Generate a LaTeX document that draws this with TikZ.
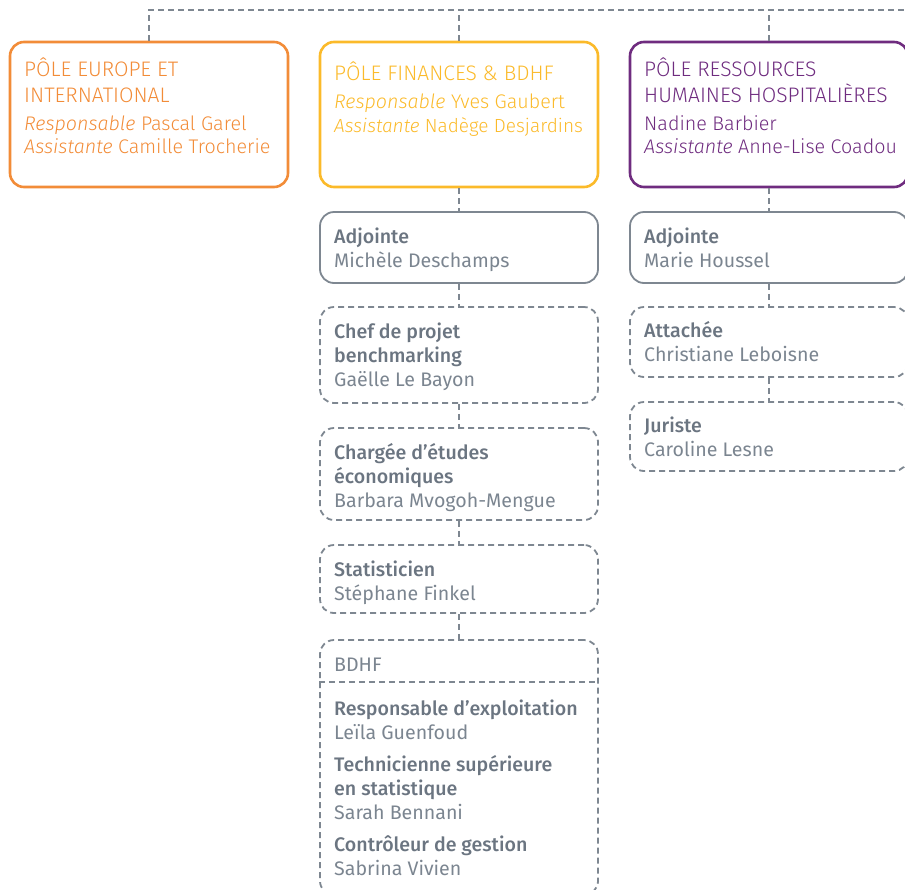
\documentclass[tikz,border=0pt]{standalone}
\usepackage{fontspec}
\setmainfont{Fira Sans}
\newfontfamily\lightf{Fira Sans Light}[ItalicFont={Fira Sans Light Italic}]
\newfontfamily\medf{Fira Sans Medium}
\definecolor{orangeP}{HTML}{F28C38}
\definecolor{yellowP}{HTML}{FBBA2A}
\definecolor{purpleP}{HTML}{6F2C7F}
\definecolor{gborder}{HTML}{7E8791}
\definecolor{gtext}{HTML}{7B8590}
\definecolor{glabel}{HTML}{6B7581}
\begin{document}
\begin{tikzpicture}[x=1pt,y=-1pt,
  pole/.style={draw=#1, text=#1, line width=2.6pt, rounded corners=14pt, minimum width=278pt, minimum height=145pt, inner sep=0pt},
  gbox/.style={draw=gborder, line width=1.8pt, rounded corners=14pt, inner sep=0pt, minimum width=278pt},
  dbox/.style={gbox, dash pattern=on 6pt off 4pt},
  link/.style={draw=gborder, line width=1.8pt, dash pattern=on 6pt off 4pt},
  tt/.style={anchor=base west, inner sep=0pt, text=#1, font=\lightf\fontsize{21}{24}\selectfont},
  tl/.style={anchor=base west, inner sep=0pt, text=#1, font=\lightf\fontsize{19.7}{24}\selectfont},
  nm/.style={anchor=base west, inner sep=0pt, text=gtext, font=\fontsize{19.6}{24}\selectfont},
  lb/.style={anchor=base west, inner sep=0pt, text=glabel, font=\medf\fontsize{19.6}{24}\selectfont}]
\useasboundingbox (0,0) rectangle (905,889);
% top-level boxes
\node[pole=orangeP] (eu) at (149,114.5) {};
\node[pole=yellowP] (fin) at (459,114.5) {};
\node[pole=purpleP] (rh) at (769,114.5) {};
% finance column
\node[gbox, minimum height=71pt] (adjF) at (459,247.5) {};
\node[dbox, minimum height=96pt] (chef) at (459,355) {};
\node[dbox, minimum height=92pt] (charg) at (459,474) {};
\node[dbox, minimum height=68pt] (stat) at (459,579) {};
\node[dbox, minimum height=255pt] (bdhf) at (459,767.5) {};
% RH column
\node[gbox, minimum height=71pt] (adjR) at (769,247.5) {};
\node[dbox, minimum height=70pt] (att) at (769,342) {};
\node[dbox, minimum height=69pt] (jur) at (769,436.5) {};
% top connector
\coordinate (tr) at (912,10);
\draw[link] (eu.north) -- (eu.north |- tr) -- (tr);
\draw[link] (fin.north) -- (fin.north |- tr);
\draw[link] (rh.north) -- (rh.north |- tr);
% column connectors
\draw[link] (fin.south) -- (adjF.north);
\draw[link] (adjF.south) -- (chef.north);
\draw[link] (chef.south) -- (charg.north);
\draw[link] (charg.south) -- (stat.north);
\draw[link] (stat.south) -- (bdhf.north);
\draw[link] (rh.south) -- (adjR.north);
\draw[link] (adjR.south) -- (att.north);
\draw[link] (att.south) -- (jur.north);
% BDHF divider
\path (bdhf.north west) ++(0,43) coordinate (dl);
\draw[link] (dl) -- (dl -| bdhf.east);
% texts: Europe
\node[tt=orangeP] (eu1) at (24,76) {PÔLE EUROPE ET};
\node[tt=orangeP] (eu2) at (24,102) {INTERNATIONAL};
\node[tl=orangeP] (eu3) at (24,130) {\textit{Responsable} Pascal Garel};
\node[tl=orangeP] (eu4) at (24,153) {\textit{Assistante} Camille Trocherie};
% Finances
\node[tt=yellowP] (fi1) at (334,80) {PÔLE FINANCES \& BDHF};
\node[tl=yellowP] (fi2) at (334,108) {\textit{Responsable} Yves Gaubert};
\node[tl=yellowP, font=\lightf\fontsize{19}{24}\selectfont] (fi3) at (334,132) {\textit{Assistante} Nadège Desjardins};
% RH
\node[tt=purpleP] (rh1) at (644,76) {PÔLE RESSOURCES};
\node[tt=purpleP] (rh2) at (644,102) {HUMAINES HOSPITALIÈRES};
\node[tl=purpleP] (rh3) at (644,130) {Nadine Barbier};
\node[tl=purpleP] (rh4) at (644,153) {\textit{Assistante} Anne-Lise Coadou};
% finance column texts
\node[lb] (a1) at (334,243) {Adjointe};
\node[nm] (a2) at (334,267) {Michèle Deschamps};
\node[lb] (c1) at (334,338) {Chef de projet};
\node[lb] (c2) at (334,362) {benchmarking};
\node[nm] (c3) at (334,386) {Gaëlle Le Bayon};
\node[lb] (e1) at (334,459) {Chargée d’études};
\node[lb] (e2) at (334,483) {économiques};
\node[nm] (e3) at (334,507) {Barbara Mvogoh-Mengue};
\node[lb] (s1) at (334,576) {Statisticien};
\node[nm] (s2) at (334,600) {Stéphane Finkel};
\node[nm] (b0) at (334,671) {BDHF};
\node[lb] (b1) at (334,715) {Responsable d’exploitation};
\node[nm] (b2) at (334,739) {Leïla Guenfoud};
\node[lb] (b3) at (334,771) {Technicienne supérieure};
\node[lb] (b4) at (334,795) {en statistique};
\node[nm] (b5) at (334,819) {Sarah Bennani};
\node[lb] (b6) at (334,851) {Contrôleur de gestion};
\node[nm] (b7) at (334,875) {Sabrina Vivien};
% RH column texts
\node[lb] (r1) at (644,243) {Adjointe};
\node[nm] (r2) at (644,267) {Marie Houssel};
\node[lb] (t1) at (644,337) {Attachée};
\node[nm] (t2) at (644,361) {Christiane Leboisne};
\node[lb] (j1) at (644,432) {Juriste};
\node[nm] (j2) at (644,456) {Caroline Lesne};
\end{tikzpicture}
\end{document}
